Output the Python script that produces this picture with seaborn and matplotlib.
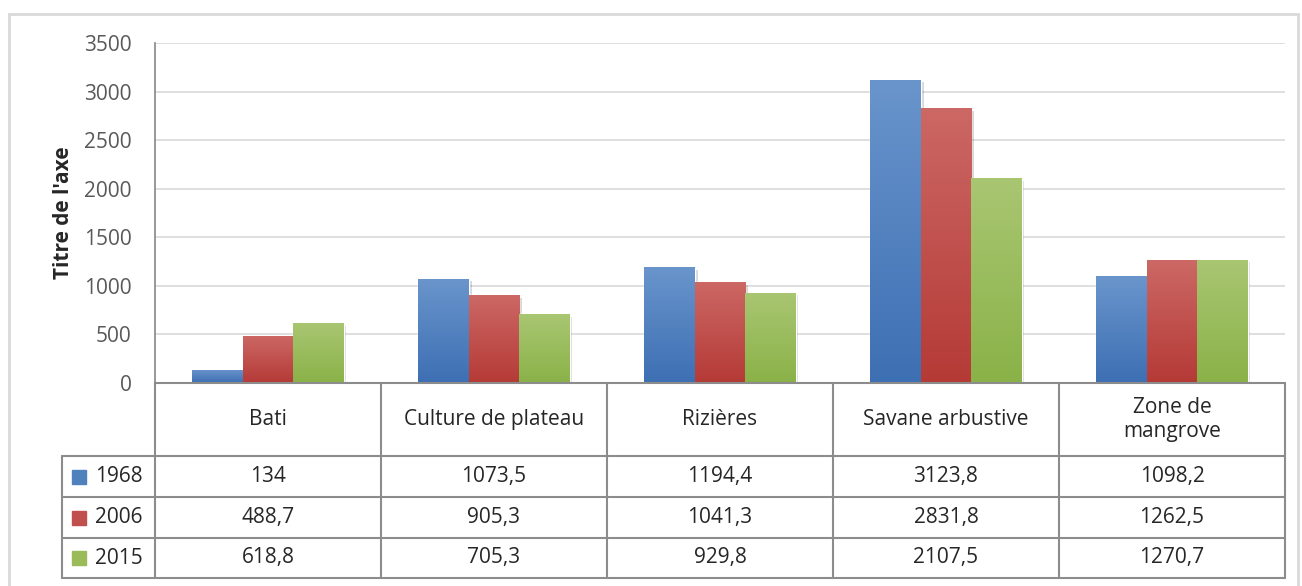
"""
plot.py — land cover by year (bar chart with an Excel-style data table).
"""
import matplotlib
matplotlib.use("Agg")
import matplotlib.pyplot as plt
import matplotlib.patheffects as pe
from matplotlib.lines import Line2D
from matplotlib.patches import Rectangle
from matplotlib.transforms import blended_transform_factory
import numpy as np
import pandas as pd
import seaborn as sns

# ── Data ─────────────────────────────────────────────────────────────────────
categories = ["Bati", "Culture de plateau", "Rizières", "Savane arbustive", "Zone de\nmangrove"]
years = ["1968", "2006", "2015"]
v1968 = [134, 1073.5, 1194.4, 3123.8, 1098.2]
v2006 = [488.7, 905.3, 1041.3, 2831.8, 1262.5]
v2015 = [618.8, 705.3, 929.8, 2107.5, 1270.7]
y_ticks = [0, 500, 1000, 1500, 2000, 2500, 3000, 3500]

df = pd.DataFrame({"cat": categories * 3,
                   "year": [y for y in years for _ in categories],
                   "val": v1968 + v2006 + v2015})

# ── Style ────────────────────────────────────────────────────────────────────
sns.set_style("white")
plt.rcParams["font.family"] = ["Open Sans", "DejaVu Sans"]
FS = 15

base = ["#4f81bd", "#c0504d", "#9bbb59"]
tops = ["#6a95cc", "#cc6865", "#a9c672"]
bots = ["#3d6fb3", "#b53a36", "#8ab248"]

W, H = 1302, 586
fig = plt.figure(figsize=(W / 100, H / 100), dpi=100)
fig.patch.set_facecolor("white")

# outer chart frame
fig.add_artist(Rectangle((9 / W, -0.05), 1289 / W, 1 - 14 / H + 0.05,
                         transform=fig.transFigure, fill=False,
                         edgecolor="#d9d9d9", linewidth=2))

ax = fig.add_axes([155 / W, (H - 383) / H, (1285 - 155) / W, (383 - 43) / H])
sns.barplot(data=df, x="cat", y="val", hue="year", palette=base,
            width=0.67, ax=ax, legend=False, saturation=1)

ax.set_ylim(0, 3500)
ax.set_xlim(-0.5, len(categories) - 0.5)
ax.set_yticks(y_ticks)
ax.set_yticklabels([str(t) for t in y_ticks], fontsize=FS, color="#595959")
ax.tick_params(axis="y", length=0, pad=17)
ax.set_xticks([])
ax.set_xlabel("")
ax.set_ylabel("Titre de l'axe", fontsize=FS, fontweight="bold")
ax.yaxis.set_label_coords(-0.072, 0.5)
ax.grid(axis="y", color="#d9d9d9", linewidth=1.2, zorder=0)
ax.set_axisbelow(True)
for s in ["top", "right", "bottom"]:
    ax.spines[s].set_visible(False)
ax.spines["left"].set_color("#868686")
ax.spines["left"].set_linewidth(1.2)

# gradient fill + soft shadow on each bar
grad = np.linspace(0, 1, 256).reshape(-1, 1)
for i, bars in enumerate(ax.containers):
    cmap = matplotlib.colors.LinearSegmentedColormap.from_list("g", [bots[i], tops[i]])
    for p in bars:
        x0, w, h = p.get_x(), p.get_width(), p.get_height()
        p.set_path_effects([pe.SimplePatchShadow(offset=(2, -2), alpha=0.18), pe.Normal()])
        im = ax.imshow(grad, extent=[x0, x0 + w, 0, h], origin="lower",
                       aspect="auto", cmap=cmap, zorder=p.get_zorder() + 0.1)
        im.set_clip_path(p)
ax.set_xlim(-0.5, len(categories) - 0.5)
ax.set_ylim(0, 3500)

# ── Data table below the plot ────────────────────────────────────────────────
ph = 383 - 43                       # axes height in px
pw = 1285 - 155                     # axes width in px
hdr = -73 / ph
rows = [hdr - 41 / ph * k for k in range(4)]
rows[3] = -195 / ph
leg_x = (62 - 155) / pw
lc = "#8c8c8c"
tr = blended_transform_factory(ax.transData, ax.transAxes)
n = len(categories)

def hline(x0, x1, y, t):
    ax.add_line(Line2D([x0, x1], [y, y], transform=t, color=lc, lw=1.5, clip_on=False))

def vline(x, y0, y1, t):
    ax.add_line(Line2D([x, x], [y0, y1], transform=t, color=lc, lw=1.5, clip_on=False))

hline(-0.5, n - 0.5, 0, tr)
for y in rows:
    hline(-0.5, n - 0.5, y, tr)
for k in range(n + 1):
    vline(k - 0.5, 0, rows[3], tr)
for y in rows:
    hline(leg_x, 0, y, ax.transAxes)
vline(leg_x, rows[0], rows[3], ax.transAxes)

for k, c in enumerate(categories):
    ax.text(k, hdr / 2, c, transform=tr, ha="center", va="center",
            fontsize=FS, linespacing=1.2)

series = [v1968, v2006, v2015]
for r, (yr, vals) in enumerate(zip(years, series)):
    yc = (rows[r] + rows[r + 1]) / 2
    for k, v in enumerate(vals):
        s = f"{v:g}".replace(".", ",")
        ax.text(k, yc, s, transform=tr, ha="center", va="center", fontsize=FS)
    ax.add_patch(Rectangle((leg_x + 10 / pw, yc - 7 / ph), 14 / pw, 14 / ph,
                           transform=ax.transAxes, color=base[r], clip_on=False))
    ax.text(leg_x + 33 / pw, yc, yr, transform=ax.transAxes, ha="left",
            va="center", fontsize=FS)

fig.savefig("out.png", dpi=100)
